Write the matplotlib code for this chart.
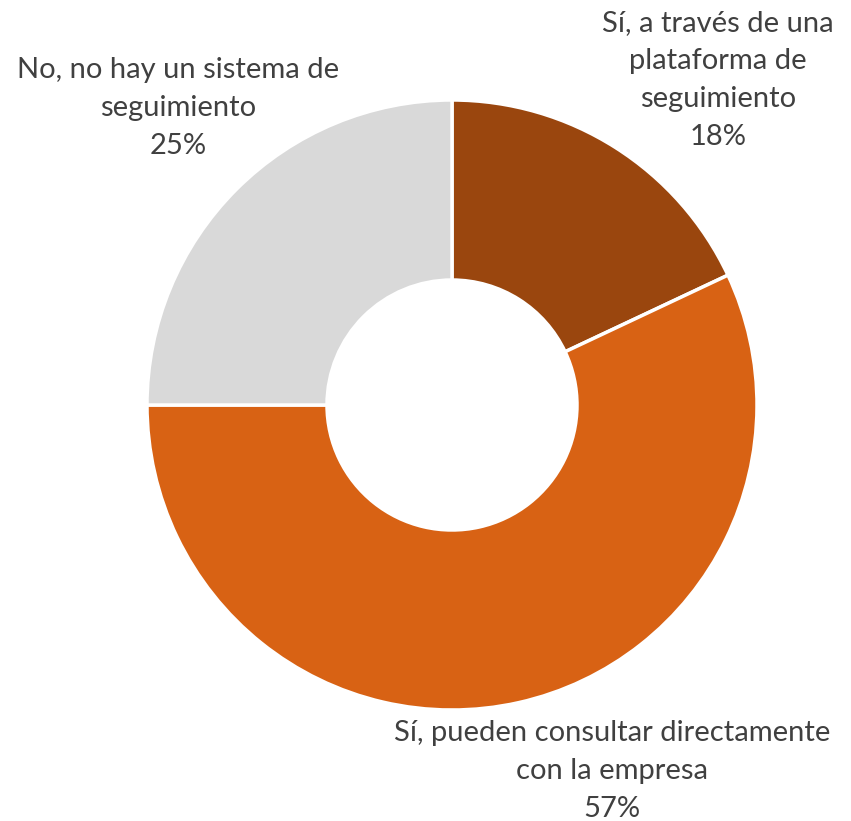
import matplotlib.pyplot as plt

# data
labels = ['Sí, a través de una\nplataforma de\nseguimiento',
          'Sí, pueden consultar directamente\ncon la empresa',
          'No, no hay un sistema de\nseguimiento']
values = [18, 57, 25]
colors = ['#9A460E', '#D86214', '#D9D9D9']

W, H = 851, 821
fig = plt.figure(figsize=(W/100, H/100), dpi=100)
ax = fig.add_axes([0, 0, 1, 1])

cx, cy, r = 452, H - 405, 305
ax.pie(values, colors=colors, startangle=90, counterclock=False,
       center=(cx, cy), radius=r, frame=True,
       wedgeprops=dict(width=r - 125, edgecolor='white', linewidth=2.5))
ax.set_xlim(0, W)
ax.set_ylim(0, H)
ax.set_aspect('equal')
ax.axis('off')

# label positions (pixel centres of each text block)
lab_pos = [(718, 80), (612, 771), (178, 108)]
for lab, v, (x, y) in zip(labels, values, lab_pos):
    ax.text(x, H - y, f'{lab}\n{v}%', ha='center', va='center',
            fontsize=21, color='#404040', family=['Lato', 'DejaVu Sans'],
            linespacing=1.58)

fig.savefig('out.png', dpi=100)
